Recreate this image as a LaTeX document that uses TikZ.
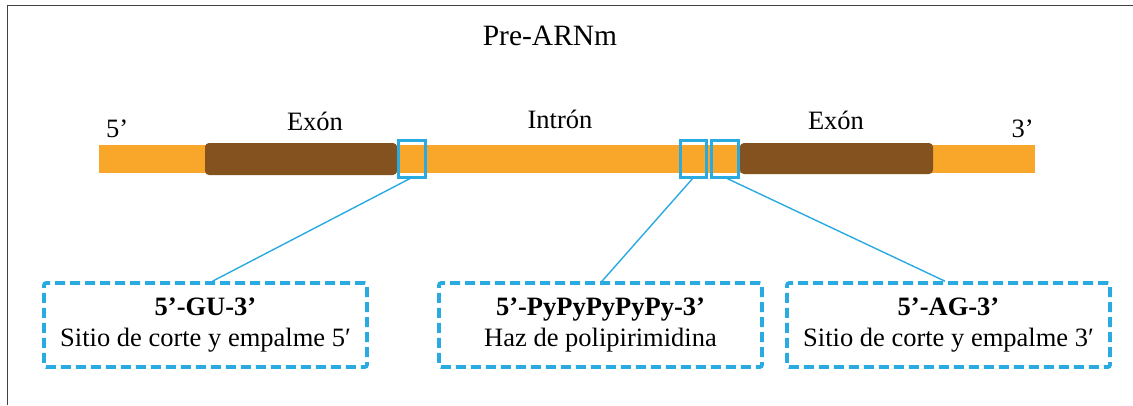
\documentclass[tikz,border=0pt]{standalone}
\usepackage{fontspec}
\setmainfont{Liberation Serif}
\definecolor{rnaorange}{HTML}{F9A72B}
\definecolor{exonbrown}{HTML}{83521F}
\definecolor{siteblue}{HTML}{29ABE2}
\definecolor{framegray}{HTML}{404040}
\tikzset{
  strand/.style={fill=rnaorange, draw=none, inner sep=0pt, outer sep=0pt},
  exon/.style={fill=exonbrown, draw=none, rounded corners=4pt, inner sep=0pt, outer sep=0pt},
  site/.style={draw=siteblue, line width=2.8pt, inner sep=0pt, outer sep=0pt},
  link/.style={draw=siteblue, line width=1.4pt},
  infobox/.style={draw=siteblue, line width=3.6pt, dash pattern=on 10pt off 5pt,
    rounded corners=2pt, minimum width=323pt, minimum height=84pt,
    align=center, inner sep=0pt, font=\fontsize{26.5}{31}\selectfont},
  lbl/.style={font=\fontsize{26.5}{30}\selectfont, inner sep=0pt},
}
\begin{document}
\begin{tikzpicture}[x=1pt,y=-1pt]
\useasboundingbox (0,0) rectangle (1133,405);
% outer frame
\draw[framegray, line width=1.3pt] (7.5,405) -- (7.5,5.5) -- (1133,5.5);

% title and strand labels
\node[lbl, font=\fontsize{29.5}{34}\selectfont, anchor=base] (title) at (550,45) {Pre-ARNm};
\node[lbl, anchor=base west] (five) at (106,137) {5’};
\node[lbl, anchor=base east] (three) at (1034,137) {3’};
\node[lbl, anchor=base] (ex1) at (315,130) {Exón};
\node[lbl, anchor=base] (intr) at (560,128) {Intrón};
\node[lbl, anchor=base] (ex2) at (836,129) {Exón};

% pre-mRNA strand with two exons
\path[strand] (99,145) rectangle (1035,173);
\node[exon, minimum width=192pt, minimum height=32pt] (e1) at (301,159) {};
\node[exon, minimum width=193pt, minimum height=31pt] (e2) at (836.5,158.5) {};

% marked splice-site regions
\node[site, minimum width=27pt, minimum height=37pt] (s1) at (412,159) {};
\node[site, minimum width=26pt, minimum height=37pt] (s2) at (693.5,159) {};
\node[site, minimum width=27pt, minimum height=37pt] (s3) at (725,159) {};

% annotation boxes
\node[infobox] (bA) at (205.5,325) {\textbf{5’-GU-3’}\\Sitio de corte y empalme 5′};
\node[infobox] (bB) at (600.5,325) {\textbf{5’-PyPyPyPyPy-3’}\\Haz de polipirimidina};
\node[infobox] (bC) at (948.5,325) {\textbf{5’-AG-3’}\\Sitio de corte y empalme 3′};

% leader lines
\draw[link] (s1.south) -- ([xshift=7pt]bA.north);
\draw[link] (s2.south) -- ([xshift=1.5pt]bB.north);
\draw[link] (s3.south) -- ([xshift=-3.5pt]bC.north);
\end{tikzpicture}
\end{document}
